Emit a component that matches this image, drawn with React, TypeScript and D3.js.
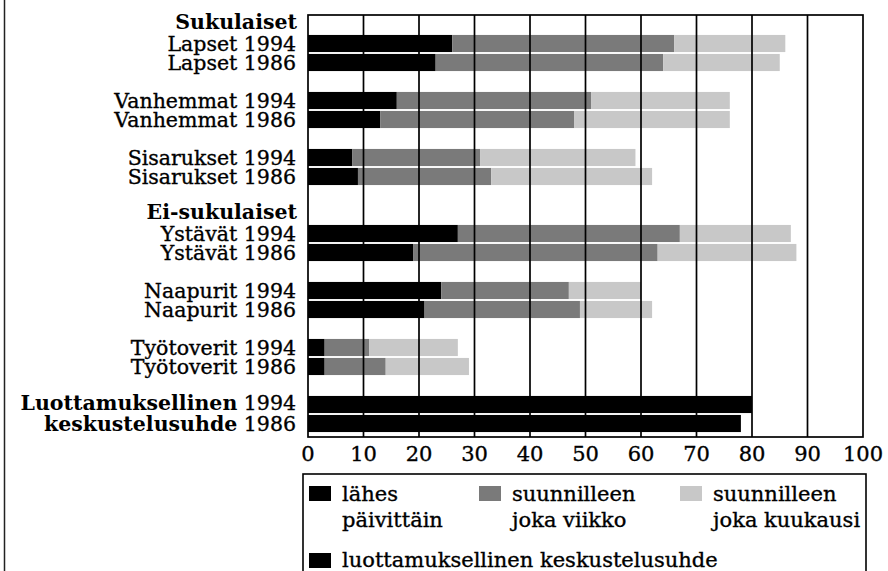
import React from 'react';
import * as d3 from 'd3';

// share (%) of respondents meeting each contact, 1994 vs 1986
const relatives = ['Lapset', 'Vanhemmat', 'Sisarukset'];
const nonRelatives = ['Ystävät', 'Naapurit', 'Työtoverit'];
const years = ['1994', '1986'];

// per row, in order Lapset 1994, Lapset 1986, Vanhemmat 1994, ...
const daily = [26, 23, 16, 13, 8, 9, 27, 19, 24, 21, 3, 3];
const weekly = [40, 41, 35, 35, 23, 24, 40, 44, 23, 28, 8, 11];
const monthly = [20, 21, 25, 28, 28, 29, 20, 25, 13, 13, 16, 15];
const confidant = [80, 78];

const xTicks = [0, 10, 20, 30, 40, 50, 60, 70, 80, 90, 100];
const legendLabels = [
  ['lähes', 'päivittäin'],
  ['suunnilleen', 'joka viikko'],
  ['suunnilleen', 'joka kuukausi'],
];
const confidantLabel = 'luottamuksellinen keskustelusuhde';

const W = 888;
const H = 571;
const FONT = '"DejaVu Serif", serif';
const colors = ['#000000', '#7a7a7a', '#c8c8c8'];

// row slots: headers, bars and blank spacers
const contactRows = [...relatives, ...nonRelatives].flatMap(c => years.map(y => `${c} ${y}`));
const slots: string[] = [];
slots.push('h:Sukulaiset');
relatives.forEach((c, i) => {
  if (i > 0) slots.push(`gap-r${i}`);
  years.forEach(y => slots.push(`${c} ${y}`));
});
slots.push('gap-e');
slots.push('h:Ei-sukulaiset');
nonRelatives.forEach((c, i) => {
  if (i > 0) slots.push(`gap-n${i}`);
  years.forEach(y => slots.push(`${c} ${y}`));
});
slots.push('gap-l');
slots.push('conf 1994', 'conf 1986');

const App = () => {
  const x = d3.scaleLinear().domain([0, 100]).range([308, 863]);
  const y = d3.scaleBand<string>().domain(slots).range([15, 433]).paddingInner(0.1).paddingOuter(0.05);
  const plotTop = 15;
  const plotBottom = 437;

  const table = contactRows.map((name, i) => ({ name, daily: daily[i], weekly: weekly[i], monthly: monthly[i] }));
  const stack = d3.stack<any>().keys(['daily', 'weekly', 'monthly']);
  const series = stack(table);

  const labelX = 296;
  const mid = (k: string) => (y(k) as number) + y.bandwidth() / 2;
  // regular text is a bit heavier in the print, thicken it slightly
  const ink = { stroke: '#000', strokeWidth: 0.35 };

  return (
    <svg width={W} height={H} style={{ position: 'absolute', left: 0, top: 0, background: '#fff' }}
      fontFamily={FONT} fontSize={20.5}>
      <line x1={4.5} x2={4.5} y1={0} y2={H} stroke="#222" strokeWidth={1.5} />

      {/* stacked bars */}
      {series.map((s, si) => (
        <g key={s.key} fill={colors[si]}>
          {s.map(d => (
            <rect key={d.data.name} x={x(d[0])} y={y(d.data.name)} width={x(d[1]) - x(d[0])} height={y.bandwidth()} />
          ))}
        </g>
      ))}
      {confidant.map((v, i) => (
        <rect key={i} x={x(0)} y={y(`conf ${years[i]}`)} width={x(v) - x(0)} height={y.bandwidth()} fill="#000" />
      ))}

      {/* grid and frame */}
      {xTicks.slice(1, -1).map(t => (
        <line key={t} x1={x(t)} x2={x(t)} y1={plotTop} y2={plotBottom} stroke="#000" strokeWidth={1.7} />
      ))}
      <rect x={x(0)} y={plotTop} width={x(100) - x(0)} height={plotBottom - plotTop} fill="none" stroke="#000" strokeWidth={1.7} />

      {xTicks.map(t => (
        <text key={t} x={x(t)} y={461} textAnchor="middle" fontSize={21} {...ink}>{t}</text>
      ))}

      {/* row labels */}
      {slots.filter(k => !k.startsWith('gap') && !k.startsWith('conf')).map(k => (
        k.startsWith('h:')
          ? <text key={k} x={labelX + 1} y={mid(k) + 4} textAnchor="end" fontWeight="bold">{k.slice(2)}</text>
          : <text key={k} x={labelX} y={mid(k) + 7} textAnchor="end" {...ink}>{k}</text>
      ))}
      <text x={labelX} y={mid('conf 1994') + 5} textAnchor="end">
        <tspan fontWeight="bold">Luottamuksellinen</tspan> <tspan {...ink}>1994</tspan>
      </text>
      <text x={labelX} y={mid('conf 1986') + 7} textAnchor="end">
        <tspan fontWeight="bold">keskustelusuhde</tspan> <tspan {...ink}>1986</tspan>
      </text>

      {/* legend */}
      <rect x={303} y={474} width={563} height={H + 10 - 474} fill="none" stroke="#000" strokeWidth={1.6} />
      {legendLabels.map((lbl, i) => {
        const lx = [309, 479, 680][i];
        return (
          <g key={i} fontSize={21}>
            <rect x={lx} y={486} width={22} height={15} fill={colors[i]} />
            <text x={lx + 33} y={501} {...ink}>{lbl[0]}</text>
            <text x={lx + 33} y={527} {...ink}>{lbl[1]}</text>
          </g>
        );
      })}
      <rect x={309} y={553} width={22} height={15} fill="#000" />
      <text x={342} y={567} fontSize={21} {...ink}>{confidantLabel}</text>
    </svg>
  );
};

export default App;
